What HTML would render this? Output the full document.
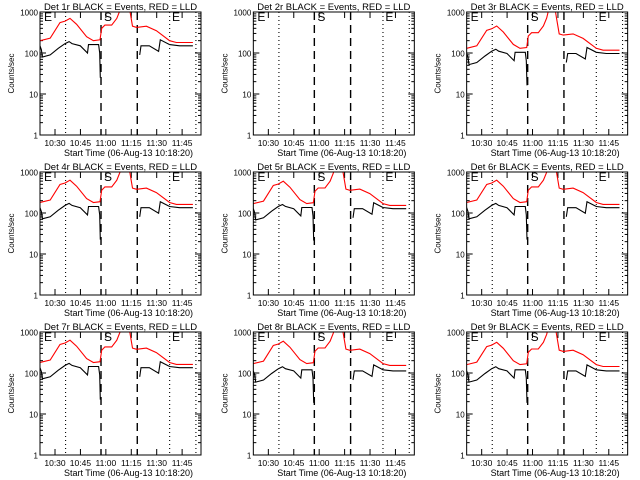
<!DOCTYPE html>
<html><head><meta charset="utf-8"><style>
html,body{margin:0;padding:0;background:#fff;}
svg{display:block;font-family:"Liberation Sans",sans-serif;}
</style></head><body>
<svg id="c" width="640" height="480" viewBox="0 0 640 480"></svg>
<script>
// minutes since axis start
const blackT = [0,0.8,1.4,6,10.8,14.8,17.2,18.9,23.8,28,28.6,31.2,34.6,35.2,35.6,null,58.8,59.6,64.5,70,71,76.5,82.4,90.2];
const blackV = [150,120,80,90,130,170,190,170,150,100,160,160,160,100,25,null,90,150,150,110,210,160,150,150];
const redT = [0,6,11.8,14.8,17.7,21.6,27.5,31.5,35.4,36.4,38.3,42.3,45.3,47.2,48,null,52.5,53,54.6,57,62.8,68.7,76.5,80.5,90.2];
const redV = [200,230,550,600,700,500,250,200,210,400,480,480,700,1100,1500,null,1500,1100,450,420,450,350,200,180,180];
const detNames = ["1r","2r","3r","4r","5r","6r","7r","8r","9r"];
const blackScale = [1,0,0.65,0.9,0.85,0.9,0.9,0.75,0.75];
const redScale = [1,0,0.65,0.9,0.85,0.9,0.9,0.85,0.8];
const tickLabels = ["10:30","10:45","11:00","11:15","11:30","11:45"];
const tickTimes = [8.86,23.86,38.86,53.86,68.86,83.86];
const dottedTimes = [15.1,76.5,92];
const dashedTimes = [36,57.4];
const yTickVals = [1,10,100,1000];
const yTickLabels = ["1","10","100","1000"];

const NS="http://www.w3.org/2000/svg";
const svg=document.getElementById('c');
function mk(tag,attrs,parent){const e=document.createElementNS(NS,tag);for(const k in attrs)e.setAttribute(k,attrs[k]);(parent||svg).appendChild(e);return e;}
const W=161,H=123,TMAX=95;
for(let p=0;p<9;p++){
  const col=p%3,row=Math.floor(p/3);
  const L=40+col*213.33, T=12+row*160, B=T+H, R=L+W;
  const g=mk('g',{});
  
  
  const xs=t=>L+t*W/TMAX;
  const ys=v=>B-41*Math.log10(v);
  const tt=mk('text',{x:L+W/2,y:T-2,'text-anchor':'middle','font-size':'9.5'},g);
  tt.textContent='Det '+detNames[p]+' BLACK = Events, RED = LLD';
  
  
  const yl=mk('text',{x:0,y:0,'text-anchor':'middle','font-size':'8',transform:`translate(${L-26},${T+H/2}) rotate(-90)`},g);
  yl.textContent='Counts/sec';
  
  
  const xl=mk('text',{x:L+W/2+8,y:B+21,'text-anchor':'middle','font-size':'9'},g);
  xl.textContent='Start Time (06-Aug-13 10:18:20)';
  
  
  for(let i=0;i<yTickVals.length;i++){
    const y=ys(yTickVals[i]);
    const lb=mk('text',{x:L-2,y:y+3.5,'text-anchor':'end','font-size':'8'},g);
    lb.textContent=yTickLabels[i];
    
    
    mk('line',{x1:L,x2:L+6,y1:y,y2:y,stroke:'#000'},g);
    mk('line',{x1:R,x2:R-6,y1:y,y2:y,stroke:'#000'},g);
    if(i<3){for(let m=2;m<10;m++){const ym=ys(yTickVals[i]*m);
      mk('line',{x1:L,x2:L+3,y1:ym,y2:ym,stroke:'#000'},g);
      mk('line',{x1:R,x2:R-3,y1:ym,y2:ym,stroke:'#000'},g);}}
  }
  for(let i=0;i<tickTimes.length;i++){
    const x=xs(tickTimes[i]);
    mk('line',{x1:x,x2:x,y1:B,y2:B-6,stroke:'#000'},g);
    mk('line',{x1:x,x2:x,y1:T,y2:T+6,stroke:'#000'},g);
    const lb=mk('text',{x:x,y:B+11,'text-anchor':'middle','font-size':'8.5'},g);
    lb.textContent=tickLabels[i];
    
    
  }
  for(const t of dottedTimes){const x=xs(t);mk('line',{x1:x,x2:x,y1:T,y2:B,stroke:'#000','stroke-dasharray':'1,3','stroke-width':1.1},g);}
  for(const t of dashedTimes){const x=xs(t);mk('line',{x1:x,x2:x,y1:T,y2:B,stroke:'#000','stroke-dasharray':'8,5','stroke-width':1.4},g);}
  [['E',4],['S',64],['E',132]].forEach(([s,dx])=>{const e=mk('text',{x:L+dx,y:T+9,'font-size':'12'},g);e.textContent=s;
    
    });
  const clip='clip'+p;
  const cp=mk('clipPath',{id:clip},g);mk('rect',{x:L,y:T,width:W,height:H},cp);
  function series(ts,vs,sc,color,name){
    if(!sc)return;
    let d='',start=true;
    for(let i=0;i<ts.length;i++){
      if(ts[i]===null){start=true;continue;}
      d+=(start?'M':'L')+xs(ts[i]).toFixed(1)+','+ys(vs[i]*sc).toFixed(1);start=false;
    }
    const pth=mk('path',{d:d,fill:'none',stroke:color,'stroke-width':1.1,'clip-path':`url(#${clip})`},g);
    
    
  }
  series(redT,redV,redScale[p],'#f00','red-lld-series');
  series(blackT,blackV,blackScale[p],'#000','black-events-series');
  mk('rect',{x:L,y:T,width:W,height:H,fill:'none',stroke:'#000','stroke-width':1},g);
}
</script>
</body></html>
